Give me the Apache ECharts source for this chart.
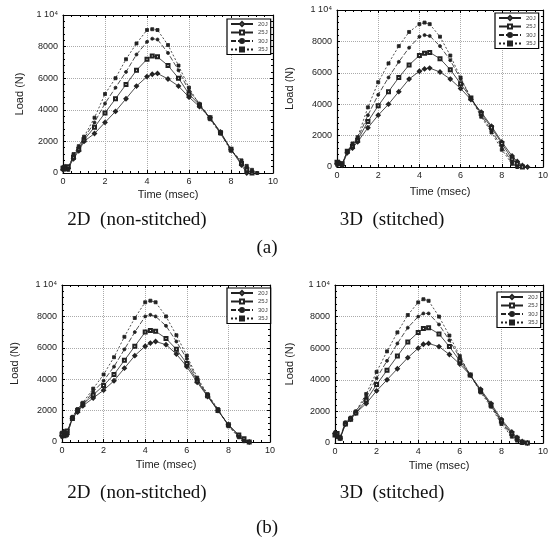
<!DOCTYPE html>
<html>
<head>
<meta charset="utf-8">
<script src="https://cdn.jsdelivr.net/npm/echarts@6/dist/echarts.min.js"></script>
<style>
html, body { margin: 0; padding: 0; background: #fff; }
#chart { width: 554px; height: 540px; }
</style>
</head>
<body>
<div id="chart"></div>
<script>
// time axis shared by every curve (msec)
var time = [0, 0.1, 0.25, 0.5, 0.75, 1, 1.5, 2, 2.5, 3, 3.5, 4, 4.25, 4.5, 5, 5.5, 6, 6.5, 7, 7.5, 8, 8.5, 8.75, 9, 9.25];
var energies = ["20J", "25J", "30J", "35J"];
var xTicks = [0, 2, 4, 6, 8, 10];
var yTicks = [0, 2000, 4000, 6000, 8000, 10000];

// (a) 2D non-stitched
var a2d20 = [200, 400, 300, 900, 1400, 2000, 2500, 3200, 3900, 4700, 5500, 6100, 6250, 6300, 5950, 5500, 4800, 4200, 3500, 2600, 1500, 500, 0, null, null];
var a2d25 = [300, 300, 400, 1000, 1500, 2100, 2900, 3800, 4700, 5600, 6500, 7200, 7400, 7350, 6800, 6000, 5000, 4300, 3500, 2550, 1500, 600, 200, 0, null];
var a2d30 = [400, 200, 300, 1100, 1600, 2200, 3200, 4400, 5400, 6400, 7500, 8300, 8500, 8450, 7600, 6500, 5200, 4400, 3450, 2500, 1450, 700, 350, 100, 0];
var a2d35 = [300, 400, 200, 1200, 1700, 2300, 3500, 5000, 6000, 7200, 8200, 9050, 9100, 9050, 8100, 6800, 5400, 4300, 3400, 2500, 1400, 800, 450, 200, 0];

// (a) 3D stitched
var a3d20 = [200, 300, 100, 900, 1200, 1600, 2500, 3300, 4000, 4800, 5600, 6100, 6250, 6300, 6050, 5600, 5000, 4300, 3500, 2600, 1600, 700, 350, 100, 0];
var a3d25 = [300, 200, 200, 1000, 1300, 1700, 2900, 3900, 4800, 5700, 6500, 7100, 7250, 7300, 6900, 6200, 5300, 4400, 3400, 2500, 1500, 500, 200, 0, null];
var a3d30 = [100, 300, 200, 1000, 1400, 1800, 3300, 4600, 5700, 6700, 7600, 8300, 8400, 8350, 7700, 6800, 5600, 4400, 3300, 2300, 1300, 300, 0, null, null];
var a3d35 = [300, 200, 100, 1000, 1500, 1900, 3800, 5400, 6600, 7700, 8600, 9100, 9200, 9100, 8300, 7100, 5700, 4400, 3200, 2200, 1100, 200, 0, null, null];

// (b) 2D non-stitched
var b2d20 = [400, 600, 500, 1500, 1900, 2300, 2800, 3300, 3900, 4700, 5500, 6100, 6300, 6400, 6200, 5600, 4800, 3800, 2900, 2000, 1100, 400, 100, 0, null];
var b2d25 = [500, 400, 700, 1500, 2000, 2400, 3000, 3600, 4300, 5200, 6100, 7000, 7100, 7050, 6600, 5900, 5000, 3900, 2950, 2000, 1100, 450, 200, 0, null];
var b2d30 = [300, 700, 400, 1600, 2000, 2400, 3200, 3900, 4800, 5900, 7000, 8000, 8100, 8000, 7400, 6400, 5300, 4000, 3000, 2050, 1050, 350, 100, 0, null];
var b2d35 = [600, 400, 600, 1600, 2100, 2500, 3400, 4300, 5400, 6700, 7900, 8900, 9000, 8900, 8000, 6800, 5500, 4100, 3050, 2100, 1000, 300, 50, 0, null];

// (b) 3D stitched
var b3d20 = [600, 400, 300, 1200, 1500, 1900, 2500, 3300, 4000, 4700, 5400, 6000, 6250, 6300, 6100, 5600, 5000, 4300, 3400, 2500, 1500, 700, 350, 100, 0];
var b3d25 = [500, 600, 300, 1200, 1500, 1900, 2700, 3700, 4600, 5500, 6400, 7000, 7250, 7300, 6900, 6100, 5200, 4300, 3300, 2400, 1400, 600, 300, 50, 0];
var b3d30 = [700, 400, 400, 1300, 1600, 2000, 2900, 4100, 5200, 6300, 7300, 8000, 8200, 8200, 7500, 6500, 5400, 4300, 3300, 2400, 1300, 500, 250, 0, null];
var b3d35 = [500, 500, 300, 1300, 1600, 2000, 3100, 4500, 5800, 7000, 8100, 8900, 9100, 9000, 8000, 6800, 5500, 4300, 3200, 2300, 1200, 400, 150, 0, null];

// layout of the four panels
var panels = [
    { grid: { left: 63, top: 15, width: 210, height: 158 }, xGap: 16, yGap: 38, legend: { left: 227, top: 19 }, curves: [a2d20, a2d25, a2d30, a2d35] },
    { grid: { left: 337, top: 10, width: 206, height: 157 }, xGap: 19, yGap: 42, legend: { left: 495, top: 13 }, curves: [a3d20, a3d25, a3d30, a3d35] },
    { grid: { left: 62, top: 285, width: 208, height: 157 }, xGap: 17, yGap: 42, legend: { left: 227, top: 288 }, curves: [b2d20, b2d25, b2d30, b2d35] },
    { grid: { left: 335, top: 285, width: 208, height: 158 }, xGap: 17, yGap: 40, legend: { left: 497, top: 292 }, curves: [b3d20, b3d25, b3d30, b3d35] }
];

var lineTypes = ["solid", "solid", [5, 2], [2, 2]];
var symbols = ["emptyDiamond", "emptyRect", "circle", "rect"];
var tickFont = { color: "#222", fontSize: 9, fontFamily: "Liberation Sans" };

var grids = [], xAxes = [], yAxes = [], legends = [], series = [];

panels.forEach(function (p, i) {
    grids.push(p.grid);
    // bottom / left axes with labels
    xAxes.push({
        type: "value", gridIndex: i, min: xTicks[0], max: xTicks[xTicks.length - 1], interval: 2,
        position: "bottom",
        name: "Time (msec)", nameLocation: "middle", nameGap: p.xGap,
        nameTextStyle: { color: "#222", fontSize: 11, fontFamily: "Liberation Sans" },
        axisLine: { onZero: false, lineStyle: { color: "#000", width: 1.2 } },
        axisTick: { inside: true, length: 3, lineStyle: { color: "#000" } },
        minorTick: { show: true, splitNumber: 5, length: 2, lineStyle: { color: "#000" } },
        axisLabel: Object.assign({ margin: 4 }, tickFont),
        splitLine: { show: true, lineStyle: { color: "#aaa", type: "dotted" } }
    });
    // top / right mirror axes (frame and inner ticks only)
    xAxes.push({
        type: "value", gridIndex: i, min: 0, max: 10, interval: 2, position: "top",
        axisLine: { onZero: false, lineStyle: { color: "#000", width: 1.2 } },
        axisTick: { inside: true, length: 3, lineStyle: { color: "#000" } },
        minorTick: { show: true, splitNumber: 5, length: 2, lineStyle: { color: "#000" } },
        axisLabel: { show: false },
        splitLine: { show: false }
    });
    yAxes.push({
        type: "value", gridIndex: i, min: yTicks[0], max: yTicks[yTicks.length - 1], interval: 2000,
        position: "left",
        name: "Load (N)", nameLocation: "middle", nameGap: p.yGap,
        nameTextStyle: { color: "#222", fontSize: 11, fontFamily: "Liberation Sans" },
        axisLine: { onZero: false, lineStyle: { color: "#000", width: 1.2 } },
        axisTick: { inside: true, length: 3, lineStyle: { color: "#000" } },
        minorTick: { show: true, splitNumber: 5, length: 2, lineStyle: { color: "#000" } },
        axisLabel: Object.assign({
            margin: 5,
            formatter: function (v) { return v === 10000 ? "1 10\u2074" : String(v); }
        }, tickFont),
        splitLine: { show: true, lineStyle: { color: "#aaa", type: "dotted" } }
    });
    yAxes.push({
        type: "value", gridIndex: i, min: 0, max: 10000, interval: 2000, position: "right",
        axisLine: { onZero: false, lineStyle: { color: "#000", width: 1.2 } },
        axisTick: { inside: true, length: 3, lineStyle: { color: "#000" } },
        minorTick: { show: true, splitNumber: 5, length: 2, lineStyle: { color: "#000" } },
        axisLabel: { show: false },
        splitLine: { show: false }
    });

    legends.push({
        left: p.legend.left, top: p.legend.top, orient: "vertical",
        data: energies,
        backgroundColor: "#fff", borderColor: "#000", borderWidth: 1.2,
        padding: [2, 3], itemWidth: 22, itemHeight: 5, itemGap: 2.5,
        textStyle: { color: "#444", fontSize: 6, fontFamily: "Liberation Sans" }
    });

    p.curves.forEach(function (vals, k) {
        var pts = [];
        time.forEach(function (t, j) {
            if (vals[j] !== null) pts.push([t, vals[j]]);
        });
        series.push({
            name: energies[k], type: "line",
            xAxisIndex: 2 * i, yAxisIndex: 2 * i,
            data: pts,
            symbol: symbols[k], symbolSize: 3, showAllSymbol: true,
            lineStyle: { color: "#222", width: 0.8, type: lineTypes[k] },
            itemStyle: { color: "#222", borderColor: "#222", borderWidth: 0.8 },
            animation: false, silent: true
        });
    });
});

var captionFont = { fill: "#111", fontSize: 19, fontFamily: "Liberation Serif", align: "center", verticalAlign: "middle" };

var myChart = echarts.init(document.getElementById("chart"), null, { renderer: "canvas" });
myChart.setOption({
    animation: false,
    backgroundColor: "#fff",
    grid: grids,
    xAxis: xAxes,
    yAxis: yAxes,
    legend: legends,
    series: series,
    graphic: [
        { type: "text", x: 137, y: 220, style: Object.assign({ text: "2D  (non-stitched)" }, captionFont) },
        { type: "text", x: 392, y: 220, style: Object.assign({ text: "3D  (stitched)" }, captionFont) },
        { type: "text", x: 267, y: 248, style: Object.assign({ text: "(a)" }, captionFont) },
        { type: "text", x: 137, y: 493, style: Object.assign({ text: "2D  (non-stitched)" }, captionFont) },
        { type: "text", x: 392, y: 493, style: Object.assign({ text: "3D  (stitched)" }, captionFont) },
        { type: "text", x: 267, y: 528, style: Object.assign({ text: "(b)" }, captionFont) }
    ]
});
</script>
</body>
</html>
